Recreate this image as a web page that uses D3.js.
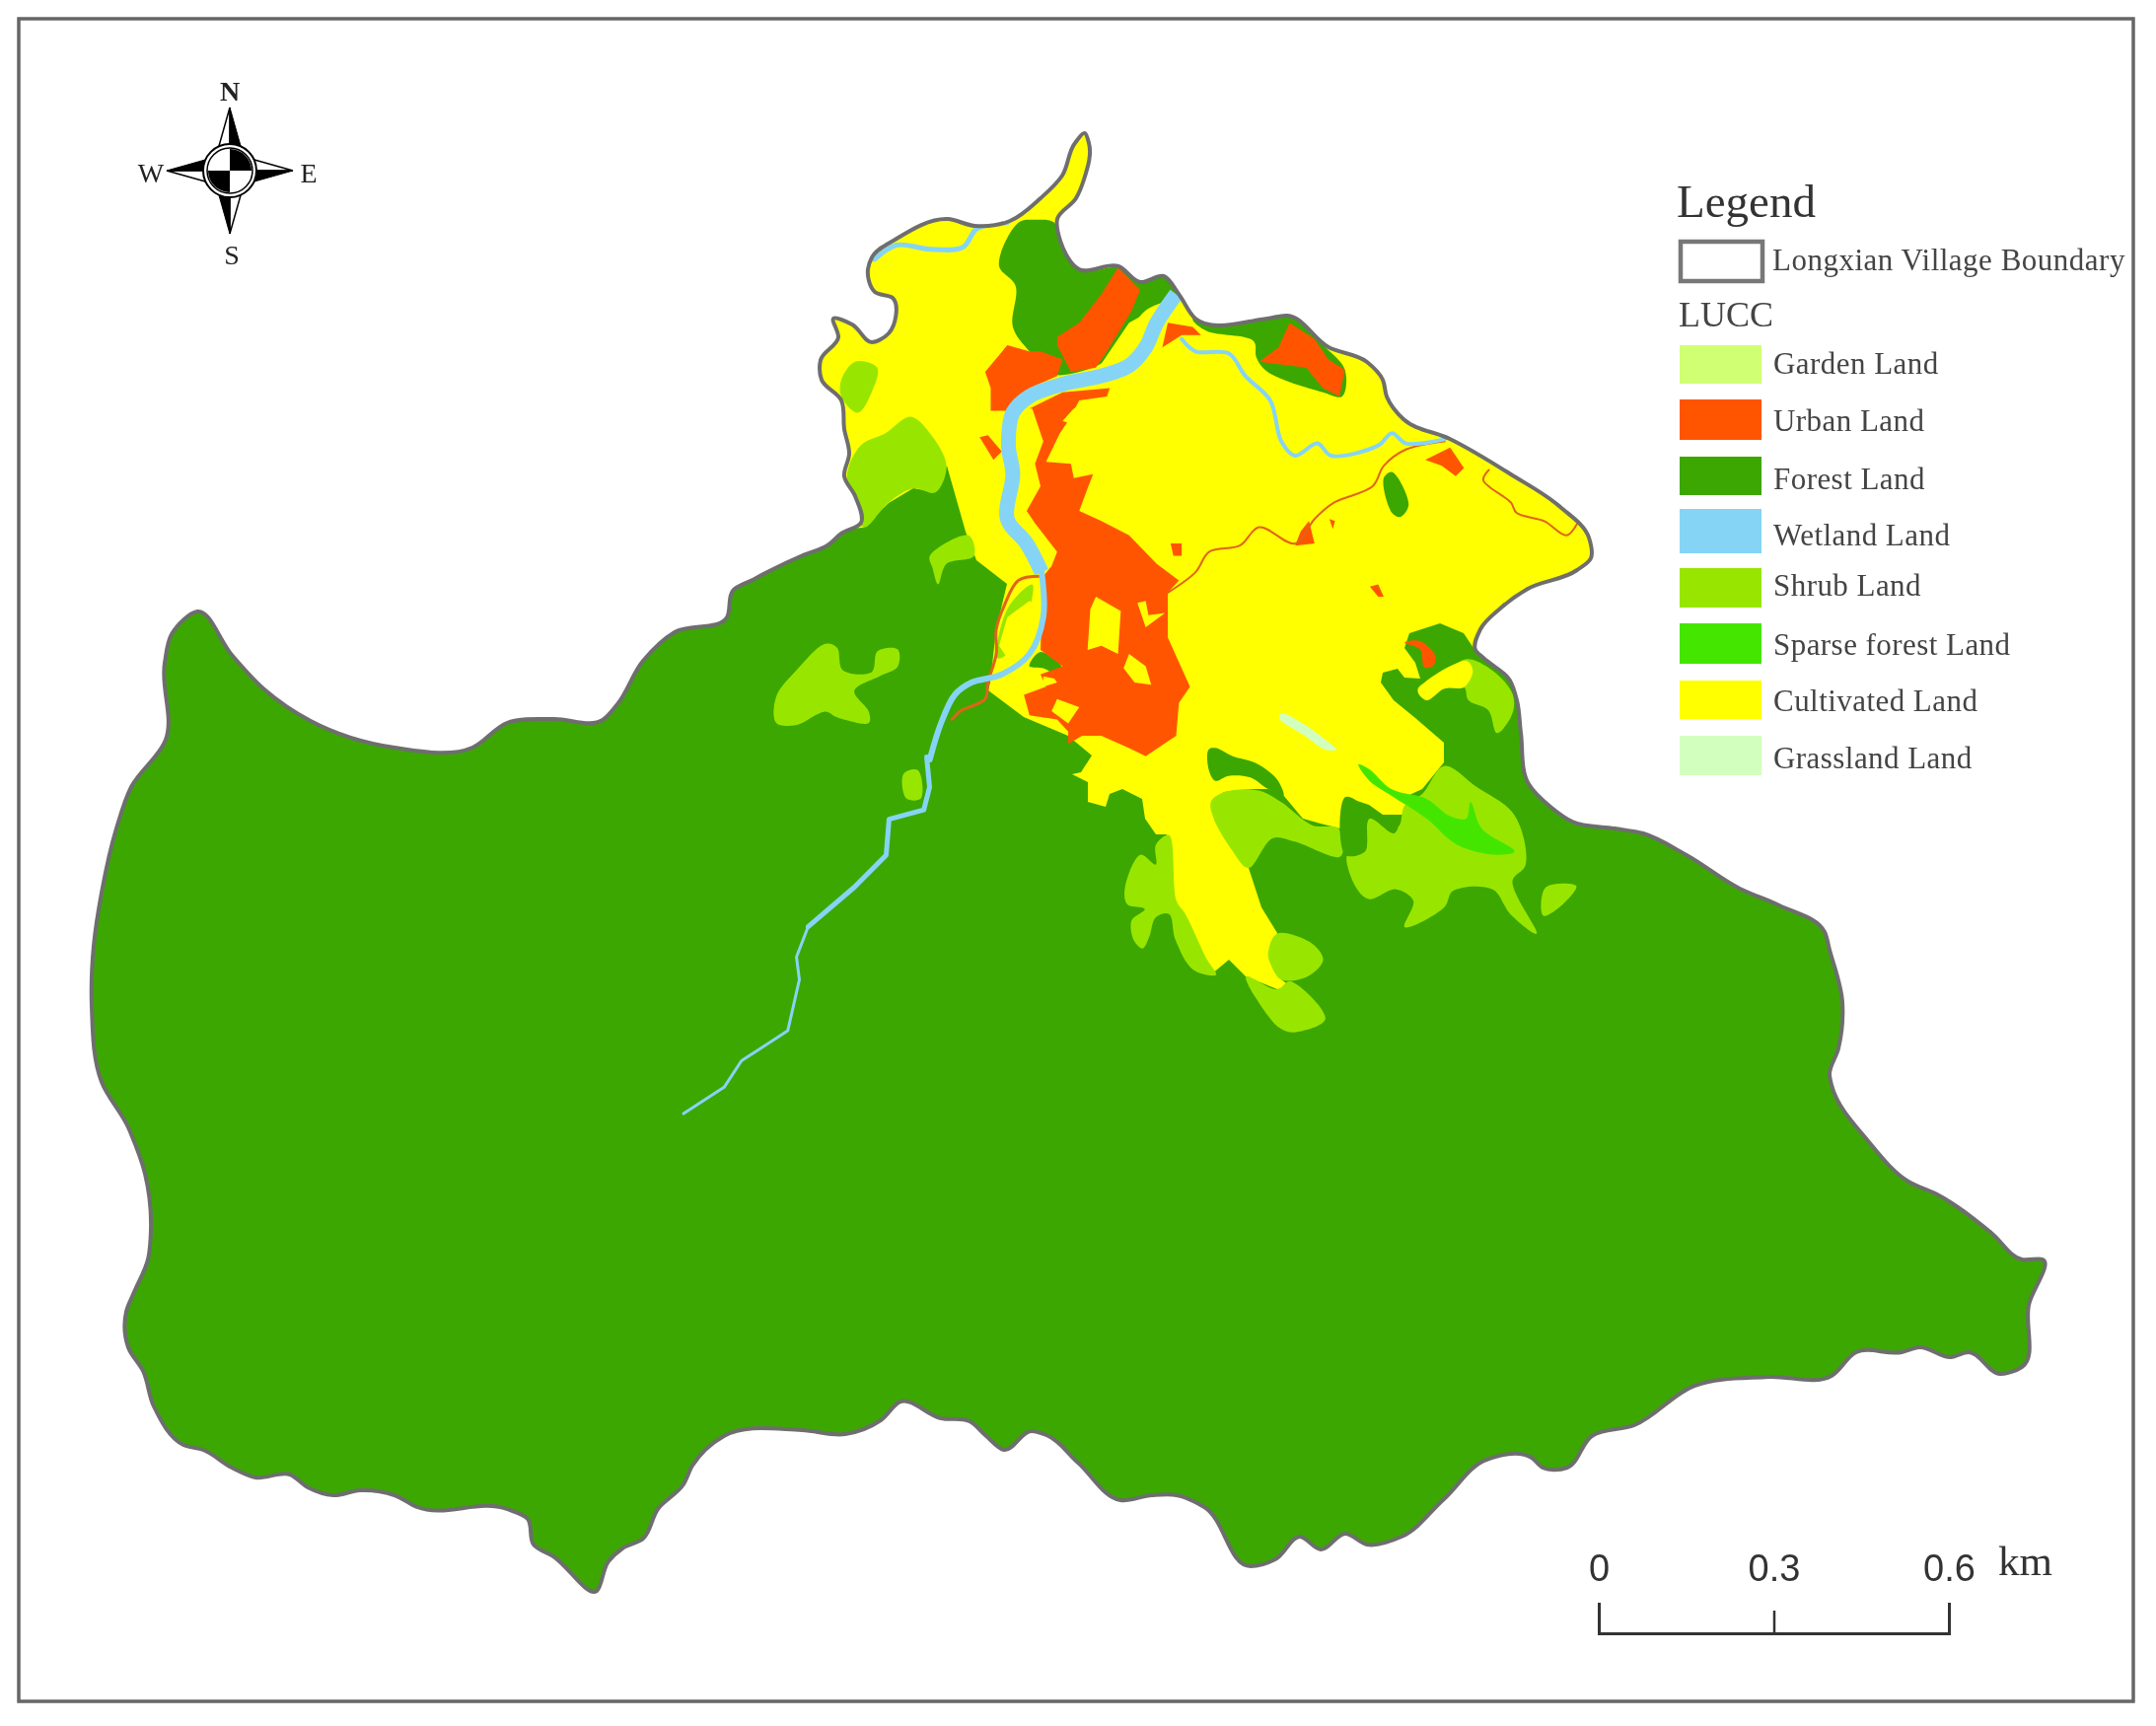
<!DOCTYPE html>
<html>
<head>
<meta charset="utf-8">
<script src="https://cdn.jsdelivr.net/npm/d3@7/dist/d3.min.js"></script>
<style>
  html, body { margin: 0; background: #fff; }
  svg { display: block; filter: blur(0.6px); }
  text { font-family: "Liberation Serif", serif; fill: #444; }
</style>
</head>
<body>
<svg></svg>
<script>
var width = 2186, height = 1750;

// legend
var landClasses = ["Garden Land", "Urban Land", "Forest Land", "Wetland Land", "Shrub Land", "Sparse forest Land", "Cultivated Land", "Grassland Land"];
var classColors = ["#d1ff73", "#ff5500", "#3ca700", "#85d4f5", "#98e600", "#44e600", "#ffff00", "#d3ffbe"];
var scaleTicks = [0, 0.3, 0.6];
var compassLetters = ["N", "E", "S", "W"];

var villageBoundary = [[778,580],[814,563],[839,553],[853,541],[873,530],[867,503],[856,483],[861,460],[856,435],[853,406],[833,385],[832,365],[850,342],[845,323],[864,329],[884,347],[901,338],[905,302],[887,296],[880,273],[884,261],[909,242],[961,222],[988,229],[1024,224],[1055,201],[1077,178],[1090,145],[1100,135],[1104,145],[1099,182],[1091,201],[1072,222],[1075,244],[1094,273],[1134,270],[1156,286],[1180,280],[1195,298],[1212,323],[1285,323],[1305,320],[1347,352],[1386,367],[1402,385],[1406,402],[1423,425],[1470,445],[1532,481],[1582,514],[1611,545],[1613,566],[1599,578],[1549,597],[1521,617],[1501,638],[1496,659],[1504,667],[1531,690],[1538,710],[1542,743],[1550,795],[1572,818],[1594,833],[1637,840],[1666,845],[1710,867],[1764,901],[1804,918],[1850,945],[1855,963],[1868,1016],[1864,1063],[1855,1090],[1857,1100],[1895,1158],[1935,1198],[1964,1211],[2019,1250],[2050,1277],[2071,1277],[2057,1323],[2050,1386],[2028,1393],[1996,1371],[1978,1376],[1946,1366],[1928,1371],[1882,1371],[1857,1395],[1793,1396],[1718,1405],[1657,1445],[1614,1456],[1589,1488],[1564,1488],[1553,1478],[1507,1480],[1464,1520],[1421,1558],[1386,1566],[1364,1555],[1339,1571],[1318,1558],[1293,1581],[1268,1588],[1221,1528],[1193,1516],[1168,1516],[1136,1521],[1093,1483],[1061,1455],[1046,1451],[1018,1470],[1000,1456],[983,1441],[954,1438],[913,1421],[893,1440],[857,1454],[813,1450],[734,1456],[702,1486],[693,1505],[667,1530],[652,1560],[631,1570],[617,1583],[605,1613],[561,1578],[541,1566],[535,1540],[514,1530],[423,1528],[400,1516],[365,1511],[338,1516],[312,1508],[294,1495],[259,1498],[235,1488],[206,1470],[186,1465],[156,1426],[145,1390],[130,1366],[128,1330],[136,1310],[150,1277],[153,1247],[147,1190],[133,1150],[130,1143],[103,1097],[93,1020],[95,959],[103,905],[118,840],[133,798],[168,750],[167,672],[174,643],[200,620],[235,664],[268,699],[315,731],[400,758],[479,758],[514,733],[561,729],[611,730],[626,714],[652,670],[684,641],[737,626],[743,599],[763,588]];
var cultivatedMain = [[800,540],[800,200],[1130,110],[1130,250],[1300,300],[1650,500],[1650,600],[1560,640],[1496,660],[1484,642],[1460,632],[1429,642],[1424,657],[1435,672],[1440,688],[1424,687],[1417,678],[1402,682],[1400,692],[1413,710],[1435,728],[1464,753],[1464,773],[1442,800],[1429,806],[1422,826],[1402,826],[1388,816],[1364,808],[1359,840],[1339,835],[1321,830],[1301,806],[1286,800],[1268,800],[1241,803],[1228,813],[1232,833],[1248,860],[1266,880],[1279,920],[1295,946],[1286,970],[1299,993],[1308,1000],[1295,1003],[1263,990],[1246,973],[1228,988],[1219,973],[1196,926],[1187,910],[1183,846],[1172,846],[1161,830],[1158,810],[1138,800],[1125,805],[1121,818],[1103,813],[1103,793],[1087,785],[1096,783],[1107,766],[1083,746],[1038,727],[1002,700],[1004,692],[1010,638],[1021,592],[990,568],[979,539],[960,472],[948,499],[926,495],[901,510],[875,535]];

// north sheet
var urbanNorth = [
  [[470,710],[530,670],[615,660],[610,680],[560,690],[540,740],[525,770],[500,840],[545,845],[550,880],[585,870],[575,905],[560,960],[600,985],[650,1020],[700,1090],[740,1130],[720,1160],[720,1270],[760,1390],[740,1430],[735,1510],[680,1560],[650,1540],[600,1510],[565,1510],[540,1530],[540,1500],[520,1470],[470,1460],[460,1410],[500,1390],[490,1360],[530,1340],[490,1300],[495,1120],[510,1095],[520,1060],[480,990],[465,960],[490,900],[480,845],[495,790],[475,710]],
  [[630,365],[670,420],[655,470],[610,570],[590,610],[545,620],[520,555],[520,535],[560,500],[600,430]],
  [[430,555],[470,570],[490,570],[530,590],[520,630],[470,660],[435,715],[400,715],[400,660],[390,620]],
  [[940,500],[985,540],[1010,590],[1040,615],[1030,680],[1000,660],[970,610],[885,595],[920,560]],
  [[720,500],[765,510],[780,530],[745,530],[710,560]],
  [[380,780],[395,775],[420,815],[405,835]],
  [[725,1040],[745,1040],[745,1070],[730,1070]],
  [[1085,1145],[1100,1140],[1110,1170],[1100,1170]],
  [[960,1010],[975,985],[985,1040],[950,1045]],
  [[1012,980],[1022,985],[1018,1005]],
  [[1185,835],[1230,805],[1255,855],[1240,875],[1215,850]]
];
var forestNorth = [
  [[450,255],[480,248],[515,255],[525,305],[560,370],[640,365],[670,400],[715,385],[740,430],[680,470],[610,590],[560,620],[510,625],[470,570],[440,510],[445,410],[415,360]],
  [[765,490],[900,490],[935,482],[1005,560],[1040,615],[1035,680],[1000,670],[900,620],[880,585],[875,545],[790,520]],
  [[1110,880],[1125,865],[1155,945],[1140,975],[1125,965]],
  [[470,1340],[490,1305],[530,1345],[520,1360],[495,1345]]
];
var shrubNorth = [
  [[130,640],[155,595],[195,610],[185,670],[160,720],[130,680]],
  [[165,800],[210,770],[255,730],[290,770],[320,850],[300,915],[260,905],[215,940],[170,1000],[140,880]],
  [[290,1070],[360,1020],[370,1070],[320,1090],[305,1140],[295,1100]],
  [[475,1140],[430,1200],[412,1320],[430,1310],[470,1200]]
];
var cultivatedNorth = [
  [[590,1170],[635,1205],[630,1310],[600,1290],[575,1300],[580,1200]],
  [[665,1185],[680,1180],[685,1215],[715,1210],[680,1245]],
  [[650,1310],[680,1340],[690,1385],[660,1380],[640,1345]],
  [[495,1365],[515,1370],[520,1380],[495,1390]],
  [[520,1420],[560,1440],[540,1480],[510,1450]],
  [[550,710],[570,700],[590,740],[570,760],[530,740]],
  [[600,600],[650,500],[690,470],[680,530],[655,590]],
  [[470,1180],[490,1200],[490,1270],[470,1300],[430,1320],[415,1290],[430,1220]]
];
var riverUpper = [[735,430],[700,500],[680,560],[650,605],[600,630],[530,650],[470,680],[440,720],[432,800],[440,870],[430,980],[465,1040],[492,1110]];
var riverMiddle = [[492,1110],[495,1220],[470,1310],[420,1360],[365,1380],[335,1410],[310,1480],[290,1568]];
var streamNorthWest = [[190,345],[230,310],[290,320],[350,315],[375,270],[430,255]];
var streamNorthEast = [[745,540],[770,570],[830,575],[860,630],[905,690],[925,790],[950,825],[990,795],[1015,825],[1100,800],[1125,770],[1150,795],[1220,785]];
var roadEast = [[1220,790],[1150,810],[1110,850],[1090,900],[1020,940],[985,980],[950,1040],[885,1000],[850,1045],[795,1060],[770,1110],[720,1160]];
var roadLoop = [[1300,860],[1290,885],[1340,940],[1350,965],[1400,985],[1440,1020],[1460,990]];
var roadWest = [[490,1120],[450,1130],[425,1190],[410,1250],[410,1310],[395,1380],[390,1420],[345,1450],[330,1470]];

// south-east sheet
var shrubSouth = [
  [[590,1170],[660,1210],[690,1185],[770,1300],[700,1340],[670,1330],[640,1290]],
  [[640,1100],[660,1040],[740,1070],[765,1120],[730,1170],[670,1180],[645,1130]],
  [[415,740],[432,940],[452,980],[502,1120],[522,1165],[470,1150],[430,1060],[415,980],[385,990],[370,1050],[355,1085],[335,1060],[330,1000],[360,965],[320,950],[315,900],[350,800],[385,830],[385,770]],
  [[510,640],[540,610],[620,605],[670,640],[740,710],[800,720],[805,805],[700,760],[650,750],[595,840],[555,780],[520,700]],
  [[935,715],[950,650],[990,615],[1040,530],[1110,590],[1200,680],[1225,830],[1195,880],[1250,1040],[1190,980],[1150,905],[1060,910],[1040,960],[950,1020],[970,940],[930,905],[870,935],[840,900],[820,800],[860,790],[870,690]],
  [[1090,205],[1150,240],[1195,310],[1195,370],[1160,430],[1140,360],[1095,330],[1085,290],[1040,295],[1000,330],[980,295],[1040,250]],
  [[1270,900],[1340,895],[1310,950],[1265,985]]
];
var sparseSouth = [[845,525],[870,540],[920,600],[1000,630],[1050,680],[1090,690],[1100,640],[1125,720],[1200,790],[1160,800],[1070,770],[1000,690],[920,620],[870,575]];
var forestSouth = [
  [[505,480],[520,475],[560,500],[610,520],[660,570],[675,620],[640,600],[600,565],[550,560],[520,575],[505,540]],
  [[815,625],[870,660],[935,710],[925,735],[870,690],[860,790],[815,800]]
];
var cultivatedSouth = [[980,300],[1090,210],[1105,240],[1085,290],[1040,295],[1000,330]];
var urbanSouth = [[950,155],[985,150],[1020,195],[1015,225],[995,230],[985,175]];
var grasslandSouth = [[670,370],[730,410],[770,450],[795,480],[770,480],[720,435],[665,385]];

// west sheet
var shrubWest = [
  [[1290,190],[1310,200],[1320,260],[1370,265],[1380,210],[1415,205],[1415,250],[1385,275],[1340,315],[1365,370],[1365,400],[1310,385],[1290,370],[1240,405],[1205,400],[1205,330],[1240,260]],
  [[1425,535],[1450,525],[1455,600],[1430,600]]
];
var riverLower = [[1465,490],[1470,570],[1460,630],[1400,655],[1395,750],[1340,835],[1260,940]];
var riverTail = [[1260,940],[1240,1020],[1245,1080],[1225,1215],[1145,1295],[1115,1365],[1045,1435]];

var svg = d3.select("svg").attr("width", width).attr("height", height);

// grid of each sheet onto the page
var wholeSheet = {x: d3.scaleLinear().domain([0, 2186]).range([0, width]), y: d3.scaleLinear().domain([0, 1750]).range([0, height])};
var northSheet = {x: d3.scaleLinear().domain([0, 1568]).range([780, 1660]), y: d3.scaleLinear().domain([0, 1568]).range([120, 770])};
var southSheet = {x: d3.scaleLinear().domain([0, 1568]).range([1000, 1700]), y: d3.scaleLinear().domain([0, 1440]).range([600, 1080])};
var westSheet = {x: d3.scaleLinear().domain([0, 1568]).range([80, 1000]), y: d3.scaleLinear().domain([0, 1568]).range([580, 1180])};

function outline(sheet, curve) {
  return d3.line().curve(curve)
    .x(function (d) { return sheet.x(d[0]); })
    .y(function (d) { return sheet.y(d[1]); });
}
var smooth = d3.curveCatmullRomClosed.alpha(0.5);
var stream = d3.curveCatmullRom.alpha(0.5);

function patches(list, sheet, color, curve) {
  map.selectAll(null).data(list).enter().append("path")
    .attr("d", outline(sheet, curve || smooth))
    .attr("fill", color);
}
function waterway(points, sheet, color, w, curve, cap) {
  map.append("path").datum(points)
    .attr("d", outline(sheet, curve || stream))
    .attr("fill", "none")
    .attr("stroke", color)
    .attr("stroke-width", w)
    .attr("stroke-linejoin", "round")
    .attr("stroke-linecap", cap || "round");
}

var color = d3.scaleOrdinal().domain(landClasses).range(classColors);

// neat line
svg.append("rect")
  .attr("x", 19).attr("y", 19)
  .attr("width", 2144).attr("height", 1706)
  .attr("fill", "none").attr("stroke", "#666").attr("stroke-width", 3.5);

// map
var boundaryPath = outline(wholeSheet, d3.curveCatmullRomClosed.alpha(1))(villageBoundary);
svg.append("clipPath").attr("id", "village").append("path").attr("d", boundaryPath);
var map = svg.append("g").attr("clip-path", "url(#village)");

map.append("path").attr("d", boundaryPath).attr("fill", color("Forest Land"));
patches([cultivatedMain], wholeSheet, color("Cultivated Land"), d3.curveLinearClosed);
patches(shrubNorth, northSheet, color("Shrub Land"));
patches(shrubSouth, southSheet, color("Shrub Land"));
patches(shrubWest, westSheet, color("Shrub Land"));
patches([sparseSouth], southSheet, color("Sparse forest Land"));
patches([cultivatedSouth], southSheet, color("Cultivated Land"));
patches(forestNorth, northSheet, color("Forest Land"));
patches(forestSouth, southSheet, color("Forest Land"));
patches(urbanNorth, northSheet, color("Urban Land"), d3.curveLinearClosed);
patches([urbanSouth], southSheet, color("Urban Land"));
patches(cultivatedNorth, northSheet, color("Cultivated Land"), d3.curveLinearClosed);
patches([grasslandSouth], southSheet, color("Grassland Land"));

waterway(roadEast, northSheet, "#e0641a", 2);
waterway(roadLoop, northSheet, "#e0641a", 2);
waterway(roadWest, northSheet, "#e0641a", 3);
waterway(riverUpper, northSheet, color("Wetland Land"), 15, null, "butt");
waterway(riverMiddle, northSheet, color("Wetland Land"), 6);
waterway(riverLower, westSheet, color("Wetland Land"), 5, d3.curveLinear);
waterway(riverTail, westSheet, color("Wetland Land"), 3, d3.curveLinear);
waterway(streamNorthWest, northSheet, color("Wetland Land"), 5);
waterway(streamNorthEast, northSheet, color("Wetland Land"), 4);

svg.append("path").attr("d", boundaryPath)
  .attr("fill", "none").attr("stroke", "#6e6e6e")
  .attr("stroke-width", 4).attr("stroke-linejoin", "round");

// compass
var compass = svg.append("g").attr("transform", "translate(233,173)");
compass.selectAll(".arm").data(compassLetters).enter().append("g")
  .attr("class", "arm")
  .attr("transform", function (d, i) { return "rotate(" + i * 90 + ")"; })
  .each(function () {
    var arm = d3.select(this);
    arm.append("path").attr("d", "M0,-64L-11,-25L0,-25Z").attr("fill", "#fff").attr("stroke", "#000").attr("stroke-width", 1.5);
    arm.append("path").attr("d", "M0,-64L11,-25L0,-25Z").attr("fill", "#000").attr("stroke", "#000").attr("stroke-width", 1);
  });
compass.append("circle").attr("r", 27).attr("fill", "#fff").attr("stroke", "#000").attr("stroke-width", 2);
var quadrant = d3.arc().innerRadius(0).outerRadius(22);
compass.selectAll(".quadrant").data([0, Math.PI]).enter().append("path")
  .attr("class", "quadrant")
  .attr("d", function (d) { return quadrant({startAngle: d, endAngle: d + Math.PI / 2}); })
  .attr("fill", "#000");
compass.append("circle").attr("r", 23).attr("fill", "none").attr("stroke", "#000").attr("stroke-width", 1.5);

var letterSpots = {N: [0, -71], E: [80, 12], S: [2, 95], W: [-80, 12]};
compass.selectAll(".letter").data(compassLetters).enter().append("text")
  .attr("class", "letter")
  .attr("x", function (d) { return letterSpots[d][0]; })
  .attr("y", function (d) { return letterSpots[d][1]; })
  .attr("text-anchor", "middle")
  .attr("font-size", 28)
  .attr("font-weight", function (d) { return d === "N" ? "bold" : "normal"; })
  .style("fill", "#222")
  .text(function (d) { return d; });

// legend
var legend = svg.append("g");
legend.append("text").attr("x", 1700).attr("y", 220).attr("font-size", 47).style("fill", "#333").text("Legend");
legend.append("rect").attr("x", 1704).attr("y", 245).attr("width", 83).attr("height", 40)
  .attr("fill", "#fff").attr("stroke", "#777").attr("stroke-width", 4.5);
legend.append("text").attr("x", 1797).attr("y", 274).attr("font-size", 31).attr("letter-spacing", 0.5).text("Longxian Village Boundary");
legend.append("text").attr("x", 1702).attr("y", 331).attr("font-size", 36).text("LUCC");

var swatchTop = [350, 405, 463, 516, 576, 632, 690, 746];
var swatchHeight = [39, 41, 39, 45, 40, 41, 39, 40];
var labelBase = [379, 437, 496, 553, 604, 664, 721, 779];
legend.selectAll(".swatch").data(landClasses).enter().append("rect")
  .attr("class", "swatch")
  .attr("x", 1703).attr("width", 83)
  .attr("y", function (d, i) { return swatchTop[i]; })
  .attr("height", function (d, i) { return swatchHeight[i]; })
  .attr("fill", function (d) { return color(d); });
legend.selectAll(".label").data(landClasses).enter().append("text")
  .attr("class", "label")
  .attr("x", 1798)
  .attr("y", function (d, i) { return labelBase[i]; })
  .attr("font-size", 31)
  .attr("letter-spacing", 0.45)
  .text(function (d) { return d; });

// scale bar
var km = d3.scaleLinear().domain([0, 0.6]).range([1621, 1976]);
var bar = svg.append("g").attr("transform", "translate(0,1656)")
  .call(d3.axisTop(km).tickValues(scaleTicks).tickSize(31).tickPadding(22).tickFormat(d3.format("~g")));
bar.select(".domain").attr("stroke", "#333").attr("stroke-width", 3);
bar.selectAll(".tick line").attr("stroke", "#333").attr("stroke-width", 2.5)
  .attr("y2", function (d) { return d === 0.3 ? -23 : -31; });
bar.selectAll(".tick text")
  .style("font-family", "'Liberation Sans', sans-serif")
  .style("font-size", "38px")
  .style("fill", "#333");
svg.append("text").attr("x", 2026).attr("y", 1597).attr("font-size", 43).style("fill", "#333").text("km");
</script>
</body>
</html>
